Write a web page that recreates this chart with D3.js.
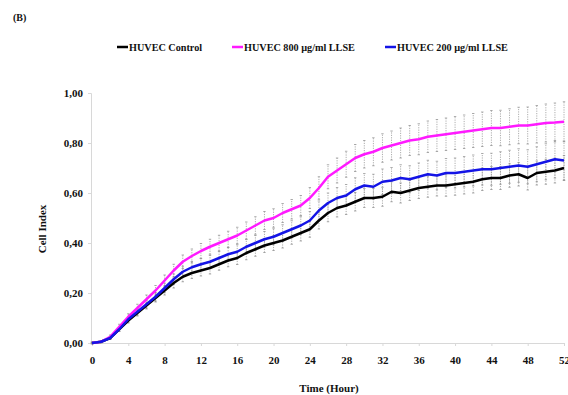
<!DOCTYPE html>
<html lang="en">
<head>
<meta charset="UTF-8"/>
<title>Cell Index</title>
<script src="https://d3js.org/d3.v7.min.js"></script>
<style>
    body { margin: 0; background: #fff; }
    text { font-family: "Liberation Serif", "Times New Roman", serif; font-weight: bold; fill: #111; }
</style>
</head>
<body>
<script>
    var w = 568;
    var h = 395;

    // hourly readings, 0..52 h
    var hours = d3.range(0, 53);
    var xTicks = d3.range(0, 53, 4);
    var yTicks = [0, 0.2, 0.4, 0.6, 0.8, 1.0];

    var seriesNames = ["HUVEC Control", "HUVEC 800 \u00b5g/ml LLSE", "HUVEC 200 \u00b5g/ml LLSE"];
    var seriesColors = ["#000000", "#ff1aff", "#1414e6"];

    var control = [0.00, 0.005, 0.02, 0.055, 0.09, 0.12, 0.15, 0.18, 0.21, 0.24, 0.265, 0.28, 0.29, 0.30, 0.315,
        0.33, 0.34, 0.36, 0.375, 0.39, 0.40, 0.41, 0.425, 0.44, 0.455, 0.49, 0.52, 0.54, 0.55, 0.565, 0.58,
        0.58, 0.585, 0.605, 0.60, 0.61, 0.62, 0.625, 0.63, 0.63, 0.635, 0.64, 0.645, 0.655, 0.66, 0.66, 0.67,
        0.675, 0.66, 0.68, 0.685, 0.69, 0.70];
    var llse800 = [0.00, 0.005, 0.025, 0.065, 0.105, 0.14, 0.175, 0.21, 0.25, 0.29, 0.325, 0.348, 0.368, 0.385, 0.40,
        0.415, 0.43, 0.45, 0.47, 0.49, 0.50, 0.52, 0.535, 0.55, 0.58, 0.62, 0.665, 0.69, 0.715, 0.74, 0.755,
        0.765, 0.78, 0.79, 0.80, 0.81, 0.815, 0.825, 0.83, 0.835, 0.84, 0.845, 0.85, 0.855, 0.86, 0.86, 0.865,
        0.87, 0.87, 0.875, 0.88, 0.882, 0.885];
    var llse200 = [0.00, 0.005, 0.02, 0.055, 0.095, 0.125, 0.155, 0.185, 0.22, 0.255, 0.285, 0.303, 0.315, 0.325, 0.34,
        0.355, 0.365, 0.385, 0.40, 0.415, 0.425, 0.44, 0.455, 0.47, 0.49, 0.53, 0.56, 0.58, 0.59, 0.615, 0.63,
        0.625, 0.645, 0.65, 0.66, 0.655, 0.665, 0.675, 0.67, 0.68, 0.68, 0.685, 0.69, 0.695, 0.695, 0.70, 0.705,
        0.71, 0.705, 0.715, 0.725, 0.735, 0.73];

    // standard deviations
    var errControl = [0.003, 0.004, 0.006, 0.008, 0.01, 0.012, 0.014, 0.016, 0.018, 0.02, 0.02, 0.022, 0.022, 0.024, 0.024,
        0.025, 0.026, 0.027, 0.028, 0.028, 0.03, 0.03, 0.03, 0.032, 0.032, 0.034, 0.035, 0.036, 0.036, 0.037, 0.038,
        0.038, 0.038, 0.04, 0.04, 0.04, 0.042, 0.042, 0.042, 0.043, 0.044, 0.044, 0.045, 0.045, 0.046, 0.046, 0.047,
        0.047, 0.048, 0.048, 0.05, 0.05, 0.05];
    var err800 = [0.003, 0.004, 0.007, 0.01, 0.012, 0.015, 0.017, 0.02, 0.022, 0.025, 0.027, 0.028, 0.03, 0.03, 0.031,
        0.032, 0.033, 0.034, 0.035, 0.036, 0.037, 0.038, 0.039, 0.04, 0.042, 0.045, 0.048, 0.05, 0.052, 0.054, 0.055,
        0.056, 0.057, 0.058, 0.06, 0.06, 0.062, 0.063, 0.064, 0.065, 0.066, 0.067, 0.068, 0.069, 0.07, 0.071, 0.072,
        0.073, 0.074, 0.075, 0.076, 0.078, 0.08];
    var err200 = [0.003, 0.004, 0.006, 0.009, 0.011, 0.013, 0.015, 0.017, 0.019, 0.021, 0.022, 0.023, 0.024, 0.025, 0.026,
        0.027, 0.028, 0.029, 0.03, 0.031, 0.032, 0.033, 0.034, 0.035, 0.036, 0.038, 0.04, 0.042, 0.044, 0.046, 0.048,
        0.05, 0.051, 0.052, 0.053, 0.054, 0.055, 0.056, 0.057, 0.058, 0.06, 0.061, 0.062, 0.063, 0.064, 0.065, 0.066,
        0.067, 0.068, 0.07, 0.072, 0.075, 0.078];

    var series = [
        { name: seriesNames[0], color: seriesColors[0], values: control, err: errControl },
        { name: seriesNames[1], color: seriesColors[1], values: llse800, err: err800 },
        { name: seriesNames[2], color: seriesColors[2], values: llse200, err: err200 }
    ];

    var margin = { left: 92, right: 4, top: 93, bottom: 52 };

    var xScale = d3.scaleLinear()
        .domain([0, 52])
        .range([margin.left, w - margin.right]);

    var yScale = d3.scaleLinear()
        .domain([0, 1])
        .range([h - margin.bottom, margin.top]);

    var svg = d3.select("body")
        .append("svg")
        .attr("width", w)
        .attr("height", h);

    var fmt = function(d) { return d3.format(".2f")(d).replace(".", ","); };

    // axes
    var xAxis = svg.append("g")
        .attr("transform", "translate(0," + yScale(0) + ")")
        .call(d3.axisBottom(xScale).tickValues(xTicks).tickSize(3).tickPadding(10).tickFormat(d3.format("d")));
    var yAxis = svg.append("g")
        .attr("transform", "translate(" + (xScale(0) - 1) + ",0)")
        .call(d3.axisLeft(yScale).tickValues(yTicks).tickSize(3).tickPadding(5).tickFormat(fmt));

    [xAxis, yAxis].forEach(function(a) {
        a.select(".domain").attr("stroke", "#d8d8d8");
        a.selectAll(".tick line").attr("stroke", "#d8d8d8");
        a.selectAll(".tick text")
            .attr("font-family", "Liberation Serif, serif")
            .attr("font-weight", "bold")
            .attr("font-size", "11px")
            .attr("fill", "#111");
    });

    // error bars
    series.forEach(function(s) {
        svg.append("g")
            .selectAll("line")
            .data(hours)
            .enter()
            .append("line")
            .attr("x1", function(d) { return xScale(d); })
            .attr("x2", function(d) { return xScale(d); })
            .attr("y1", function(d, i) { return yScale(s.values[i] - s.err[i]); })
            .attr("y2", function(d, i) { return yScale(s.values[i] + s.err[i]); })
            .attr("stroke", "#8a8a8a")
            .attr("stroke-width", 0.7)
            .attr("stroke-dasharray", "1.2,1.2");

        svg.append("g")
            .selectAll("path")
            .data(hours)
            .enter()
            .append("path")
            .attr("d", function(d, i) {
                var x = xScale(d);
                var y1 = yScale(s.values[i] - s.err[i]);
                var y2 = yScale(s.values[i] + s.err[i]);
                return "M" + (x - 1.2) + "," + y1 + "H" + (x + 1.2) + "M" + (x - 1.2) + "," + y2 + "H" + (x + 1.2);
            })
            .attr("stroke", "#8a8a8a")
            .attr("stroke-width", 0.7);
    });

    // lines
    var line = d3.line()
        .x(function(d) { return xScale(d[0]); })
        .y(function(d) { return yScale(d[1]); });

    series.forEach(function(s) {
        svg.append("path")
            .datum(hours.map(function(t, i) { return [t, s.values[i]]; }))
            .attr("fill", "none")
            .attr("stroke", s.color)
            .attr("stroke-width", 2.5)
            .attr("stroke-linejoin", "round")
            .attr("d", line);
    });

    // legend
    var legendX = [117, 232, 385];
    series.forEach(function(s, i) {
        var g = svg.append("g").attr("transform", "translate(" + legendX[i] + ",47)");
        g.append("line")
            .attr("x1", 0).attr("x2", 11)
            .attr("y1", 0).attr("y2", 0)
            .attr("stroke", s.color)
            .attr("stroke-width", 2.5);
        g.append("text")
            .attr("x", 12)
            .attr("y", 4)
            .attr("font-size", "10.2px")
            .text(s.name);
    });

    // titles
    svg.append("text")
        .attr("x", 13)
        .attr("y", 21)
        .attr("font-size", "10px")
        .text("(B)");

    svg.append("text")
        .attr("text-anchor", "middle")
        .attr("x", 329)
        .attr("y", 392)
        .attr("font-size", "11px")
        .text("Time (Hour)");

    svg.append("text")
        .attr("text-anchor", "middle")
        .attr("transform", "translate(46,229) rotate(-90)")
        .attr("font-size", "11px")
        .text("Cell Index");
</script>
</body>
</html>
